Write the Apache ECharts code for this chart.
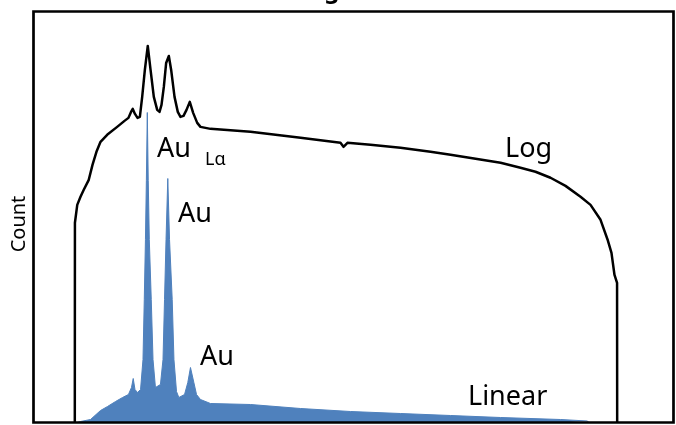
<!DOCTYPE html>
<html>
<head>
<meta charset="utf-8">
<script src="https://cdn.jsdelivr.net/npm/echarts@6/dist/echarts.min.js"></script>
<style>
  html, body { margin: 0; padding: 0; background: #fff; }
  #chart { width: 676px; height: 425px; }
</style>
</head>
<body>
<div id="chart"></div>
<script>
// Energy axis (keV)
const xMin = 0;
const xMax = 55;

// "Log" trace (counts, plotted on a log axis)
const logEnergy = [3.55, 3.56, 3.76, 4.04, 4.32, 4.75, 5.07, 5.41, 5.76, 6.33, 7.19, 7.82, 8.16, 8.38, 8.53, 8.72, 8.94, 9.14, 9.34, 9.57, 9.82, 10.06, 10.34, 10.63, 10.83, 11.00, 11.20, 11.40, 11.63, 11.83, 12.12, 12.40, 12.63, 12.89, 13.15, 13.43, 13.72, 14.07, 14.35, 15.21, 18.65, 20.80, 22.95, 26.38, 26.64, 26.98, 28.96, 31.54, 34.12, 35.84, 37.99, 40.14, 41.85, 43.14, 44.43, 45.72, 47.01, 47.87, 48.73, 49.33, 49.67, 49.93, 50.15, 50.16];
const logCounts = [1, 100, 151, 182, 214, 269, 380, 513, 646, 759, 912, 1047, 1122, 1288, 1380, 1230, 1122, 1148, 1820, 3388, 5888, 3388, 1820, 1349, 1288, 1514, 2291, 3981, 4677, 3388, 1820, 1288, 1148, 1175, 1349, 1622, 1259, 1000, 912, 871, 813, 759, 708, 631, 575, 631, 603, 562, 513, 479, 437, 398, 355, 324, 282, 234, 182, 151, 107, 68, 50, 30, 25, 1];

// "Linear" trace (counts, plotted on a linear axis)
const linEnergy = [3.76, 4.04, 4.90, 5.76, 6.36, 7.05, 7.65, 8.16, 8.42, 8.57, 8.72, 8.94, 9.20, 9.41, 9.52, 9.62, 9.70, 9.78, 9.86, 9.95, 10.12, 10.27, 10.48, 10.63, 10.91, 11.13, 11.26, 11.39, 11.54, 11.69, 11.92, 12.07, 12.29, 12.49, 12.98, 13.26, 13.49, 13.78, 14.01, 14.35, 15.21, 18.65, 22.95, 27.24, 31.54, 35.84, 40.14, 45.29, 47.61, 47.70];
const linCounts = [0, 10, 30, 120, 160, 210, 250, 280, 350, 440, 330, 300, 330, 630, 1230, 1830, 2420, 3100, 2420, 1830, 1230, 630, 350, 330, 380, 630, 1230, 1830, 2440, 1830, 1230, 630, 310, 250, 280, 400, 550, 400, 280, 230, 190, 180, 140, 110, 90, 70, 50, 30, 15, 0];

const titleText = 'Au Ranges @ 50 kV';
const yLabel = 'Count';
const peakLabels = [
  { text: 'Au', x: 157, y: 149, size: 27 },
  { text: 'Lα', x: 205, y: 160, size: 18 },
  { text: 'Au', x: 178, y: 214, size: 27 },
  { text: 'Au', x: 200, y: 357, size: 27 }
];
const seriesLabels = [
  { text: 'Log', x: 505, y: 149, size: 27 },
  { text: 'Linear', x: 468, y: 397, size: 27 }
];

const chart = echarts.init(document.getElementById('chart'), null, { renderer: 'canvas' });

const FONT = '"Noto Sans", "Open Sans", sans-serif';

const graphics = [];
graphics.push({
  type: 'text', x: 352, y: -9, z: 100,
  style: { text: titleText, fill: '#000', font: 'bold 24px ' + FONT, textAlign: 'center', textVerticalAlign: 'middle', verticalAlign: 'middle' }
});
graphics.push({
  type: 'text', x: 19, y: 224, rotation: Math.PI / 2, z: 100,
  style: { text: yLabel, fill: '#000', font: '20px ' + FONT, textAlign: 'center', textVerticalAlign: 'middle', verticalAlign: 'middle' }
});
peakLabels.concat(seriesLabels).forEach(l => {
  graphics.push({
    type: 'text', x: l.x, y: l.y, z: 100,
    style: { text: l.text, fill: '#000', font: l.size + 'px ' + FONT, textAlign: 'left', textVerticalAlign: 'middle', verticalAlign: 'middle' }
  });
});

chart.setOption({
  animation: false,
  backgroundColor: '#fff',
  grid: {
    left: 33.5, top: 11.5, right: 2.5, bottom: 2.5,
    show: true, borderColor: '#000', borderWidth: 2.7, backgroundColor: 'transparent', z: 10
  },
  xAxis: {
    type: 'value', min: xMin, max: xMax,
    axisLine: { show: false }, axisTick: { show: false }, axisLabel: { show: false }, splitLine: { show: false }
  },
  yAxis: [
    {
      type: 'value', min: 0, max: 4110,
      axisLine: { show: false }, axisTick: { show: false }, axisLabel: { show: false }, splitLine: { show: false }
    },
    {
      type: 'log', min: 1, max: Math.pow(10, 4.115), logBase: 10,
      axisLine: { show: false }, axisTick: { show: false }, axisLabel: { show: false }, splitLine: { show: false }
    }
  ],
  graphic: graphics,
  series: [
    {
      name: 'Linear', type: 'line', yAxisIndex: 0, z: 2,
      data: linEnergy.map((e, i) => [e, linCounts[i]]),
      symbol: 'none', smooth: false,
      lineStyle: { color: '#4f81bd', width: 1 },
      areaStyle: { color: '#4f81bd', opacity: 1 }
    },
    {
      name: 'Log', type: 'line', yAxisIndex: 1, z: 3,
      data: logEnergy.map((e, i) => [e, logCounts[i]]),
      symbol: 'none', smooth: false,
      lineStyle: { color: '#000', width: 2.5, join: 'round' }
    }
  ]
});
</script>
</body>
</html>
